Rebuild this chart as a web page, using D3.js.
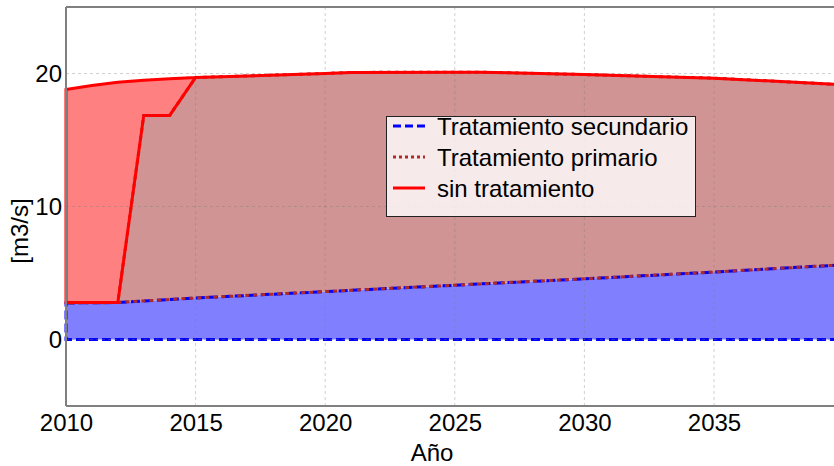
<!DOCTYPE html>
<html>
<head>
<meta charset="utf-8">
<script src="https://cdn.jsdelivr.net/npm/d3@7"></script>
<style>
  html, body { margin: 0; padding: 0; background: #fff; }
  svg { display: block; font-family: "Liberation Sans", Arial, sans-serif; }
</style>
</head>
<body>
<svg id="chart" width="834" height="466"></svg>
<script>
// ---- data ----
const years          = [2010, 2011, 2012, 2013, 2014, 2015, 2020, 2021, 2025, 2026, 2030, 2035, 2040];
// upper edge of the "Tratamiento secundario" band (m3/s)
const secundarioTop  = [2.75, 2.76, 2.78, 2.90, 3.01, 3.12, 3.60, 3.70, 4.08, 4.18, 4.56, 5.07, 5.62];
// upper edge of the "Tratamiento primario" band (m3/s)
const primarioTop    = [2.78, 2.78, 2.78, 16.85, 16.85, 19.70, 20.00, 20.08, 20.10, 20.10, 19.92, 19.65, 19.15];
// upper edge of the "sin tratamiento" band = total flow (m3/s)
const totalTop       = [18.80, 19.10, 19.35, 19.50, 19.60, 19.70, 20.00, 20.08, 20.10, 20.10, 19.92, 19.65, 19.15];
const zeroLine       = years.map(() => 0);

const xTicks = [2010, 2015, 2020, 2025, 2030, 2035];
const xGrid  = [2015, 2020, 2025, 2030, 2035, 2040];
const yTicks = [0, 10, 20];
const legendLabels = ["Tratamiento secundario", "Tratamiento primario", "sin tratamiento"];

// ---- layout ----
const FS = 24;
const svg = d3.select("#chart");
const L = 66, T = 7, B = 406, R = 843.6;
const x = d3.scaleLinear().domain([2010, 2040]).range([L, R]);
const y = d3.scaleLinear().domain([-5, 25]).range([B, T]);

const rows = years.map((yr, i) => ({yr, z: zeroLine[i], s: secundarioTop[i], p: primarioTop[i], t: totalTop[i]}));

const band = (lo, hi) => d3.area().x(d => x(d.yr)).y0(d => y(d[lo])).y1(d => y(d[hi]));

// polygon outline (closed) of a band
function outline(lo, hi) {
  const top = rows.map(d => [x(d.yr), y(d[hi])]);
  const bot = rows.slice().reverse().map(d => [x(d.yr), y(d[lo])]);
  return d3.line()(top.concat(bot)) + "Z";
}

const plot = svg.append("g");

// fills
plot.append("path").attr("d", band("z", "s")(rows)).attr("fill", "#8080ff");
plot.append("path").attr("d", band("s", "p")(rows)).attr("fill", "#d09494");
plot.append("path").attr("d", band("p", "t")(rows)).attr("fill", "#ff8080");

// grid on top of fills
const grid = svg.append("g").attr("stroke", "rgba(120,120,120,0.35)").attr("stroke-width", 1)
  .attr("stroke-dasharray", "3,3");
grid.selectAll("line.v").data(xGrid).join("line")
  .attr("x1", d => x(d)).attr("x2", d => x(d)).attr("y1", T).attr("y2", B);
grid.selectAll("line.h").data(yTicks).join("line")
  .attr("x1", L).attr("x2", R).attr("y1", d => y(d)).attr("y2", d => y(d));

// outlines
plot.append("path").attr("d", outline("z", "s")).attr("fill", "none")
  .attr("stroke", "#0000ff").attr("stroke-width", 3).attr("stroke-dasharray", "9,4");
svg.append("path").attr("d", outline("s", "p")).attr("fill", "none")
  .attr("stroke", "#b02a2a").attr("stroke-width", 3).attr("stroke-dasharray", "4,4");
svg.append("path").attr("d", outline("p", "t")).attr("fill", "none")
  .attr("stroke", "#ff0000").attr("stroke-width", 3).attr("stroke-linejoin", "miter");

// axes frame
const frame = svg.append("g").attr("stroke", "#808080").attr("stroke-width", 2).attr("fill", "none");
frame.append("line").attr("x1", L).attr("x2", R).attr("y1", T).attr("y2", T);
frame.append("line").attr("x1", L).attr("x2", R).attr("y1", B).attr("y2", B);
frame.append("line").attr("x1", L).attr("x2", L).attr("y1", T).attr("y2", B);

// axes (d3 axes, no tick marks / domain)
const xAxis = svg.append("g").attr("transform", `translate(0,${B})`)
  .call(d3.axisBottom(x).tickValues(xTicks).tickFormat(d3.format("d")).tickSize(0).tickPadding(8));
const yAxis = svg.append("g").attr("transform", `translate(${L},0)`)
  .call(d3.axisLeft(y).tickValues(yTicks).tickSize(0).tickPadding(4));
[xAxis, yAxis].forEach(a => {
  a.select(".domain").remove();
  a.selectAll("text").attr("font-size", FS).attr("fill", "#000")
    .attr("font-family", "'Liberation Sans', Arial, sans-serif");
});

// axis titles
svg.append("text").attr("x", 432).attr("y", 461).attr("text-anchor", "middle")
  .attr("font-size", FS).attr("fill", "#000").text("Año");
svg.append("text").attr("transform", "translate(28,231) rotate(-90)").attr("text-anchor", "middle")
  .attr("font-size", FS).attr("fill", "#000").text("[m3/s]");

// legend
const lg = svg.append("g");
lg.append("rect").attr("x", 386.5).attr("y", 116.5).attr("width", 309).attr("height", 100)
  .attr("fill", "rgba(255,255,255,0.8)").attr("stroke", "#222").attr("stroke-width", 1);
const lStyles = [
  {stroke: "#0000ff", dash: "8,4"},
  {stroke: "#b02a2a", dash: "3,3"},
  {stroke: "#ff0000", dash: null}
];
legendLabels.forEach((lab, i) => {
  const cy = 126 + i * 31;
  lg.append("line").attr("x1", 393).attr("x2", 425).attr("y1", cy).attr("y2", cy)
    .attr("stroke", lStyles[i].stroke).attr("stroke-width", 3)
    .attr("stroke-dasharray", lStyles[i].dash);
  lg.append("text").attr("x", 437).attr("y", cy + 8.5).attr("font-size", FS)
    .attr("fill", "#000").text(lab);
});
</script>
</body>
</html>
